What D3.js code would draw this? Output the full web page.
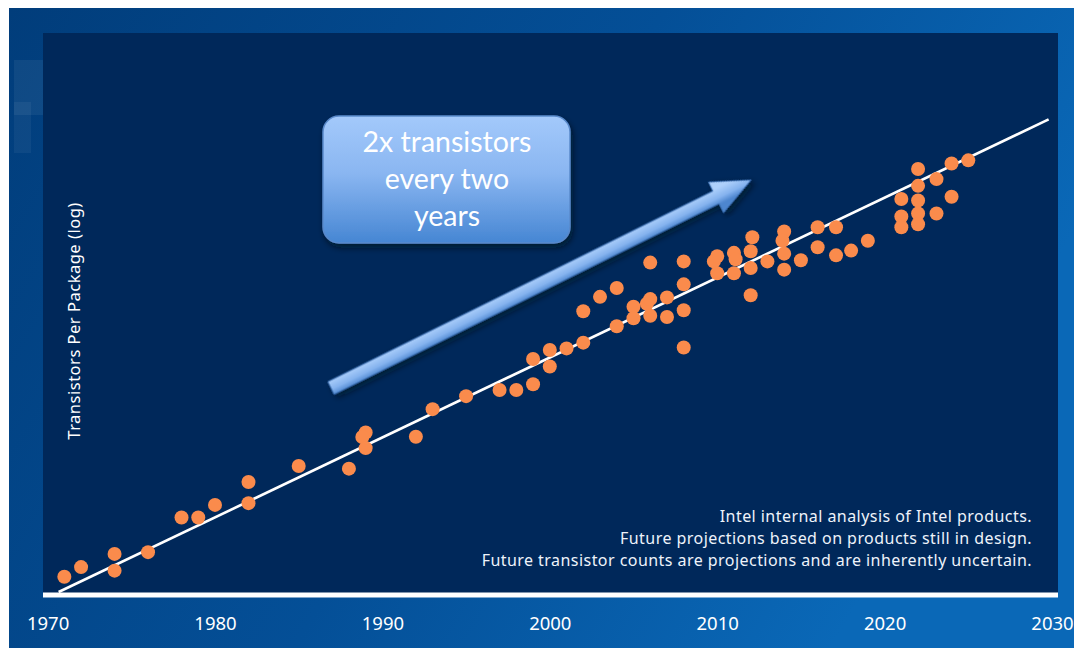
<!DOCTYPE html>
<html>
<head>
<meta charset="utf-8">
<script src="https://cdn.jsdelivr.net/npm/d3@7"></script>
<style>
  html, body { margin: 0; padding: 0; background: #ffffff; }
  svg { display: block; }
</style>
</head>
<body>
<svg id="chart" width="1074" height="648"></svg>
<script>
// Transistors per package for Intel products, by release year
const years = [
  1971, 1972, 1974, 1974, 1976, 1978, 1979, 1980, 1982, 1982,
  1985, 1988, 1989, 1988.8, 1989, 1992, 1993, 1995, 1997, 1998,
  1999, 1999, 2000, 2000, 2001, 2002, 2002, 2003, 2004, 2004,
  2005, 2005, 2005.8, 2006, 2006, 2006, 2007, 2007, 2008, 2008,
  2008, 2008, 2009.8, 2010, 2010, 2011, 2011.1, 2011, 2012.1, 2012,
  2012, 2012, 2013, 2014, 2013.9, 2014, 2014, 2015, 2016, 2016,
  2017.1, 2017.1, 2018, 2019, 2021, 2021, 2021, 2022, 2022, 2022,
  2022, 2022, 2023.1, 2023.1, 2024, 2024, 2025
];
const transistors = [
  2.3e3, 3.5e3, 6.2e3, 3.0e3, 6.7e3, 3.0e4, 3.0e4, 5.2e4, 1.4e5, 5.6e4,
  2.8e5, 2.5e5, 1.2e6, 9.9e5, 6.1e5, 1.0e6, 3.3e6, 5.8e6, 7.6e6, 7.6e6,
  9.7e6, 2.9e7, 2.1e7, 4.3e7, 4.6e7, 5.9e7, 2.3e8, 4.3e8, 6.3e8, 1.2e8,
  2.8e8, 1.7e8, 3.2e8, 3.9e8, 1.9e8, 1.9e9, 4.2e8, 1.8e8, 7.4e8, 2.0e9,
  2.4e8, 4.8e7, 2.0e9, 2.5e9, 1.2e9, 2.9e9, 2.2e9, 1.2e9, 5.7e9, 3.1e9,
  1.5e9, 4.6e8, 2.0e9, 7.3e9, 4.9e9, 2.8e9, 1.4e9, 2.1e9, 8.8e9, 3.7e9,
  8.8e9, 2.6e9, 3.2e9, 4.9e9, 3.0e10, 1.4e10, 8.8e9, 1.1e11, 5.3e10, 2.8e10,
  1.6e10, 1.0e10, 7.1e10, 1.6e10, 1.4e11, 3.3e10, 1.6e11
];

const tickYears = [1970, 1980, 1990, 2000, 2010, 2020, 2030];

// Reference line: doubling every two years
const trendYears = [1970.66, 2029.8];
const trendBase = 945;        // transistors at 1970 on the reference line
const doublingPeriod = 2;     // years

const calloutLines = ["2x transistors", "every two", "years"];
const yTitle = "Transistors Per Package (log)";
const notes = [
  "Intel internal analysis of Intel products.",
  "Future projections based on products still in design.",
  "Future transistor counts are projections and are inherently uncertain."
];

const svg = d3.select("#chart");
const W = 1074, H = 648;

const x = d3.scaleLinear().domain([1970, 2030]).range([47.6, 1052]);
const y = d3.scaleLog().domain([1e3, 1e13]).range([596, 65]);

// ---------- gradients and filters ----------
const defs = svg.append("defs");

const bg = defs.append("linearGradient").attr("id", "bgGrad")
  .attr("x1", 0).attr("y1", 0).attr("x2", 1).attr("y2", 0.35);
bg.append("stop").attr("offset", 0).attr("stop-color", "#013d7b");
bg.append("stop").attr("offset", 0.55).attr("stop-color", "#044f97");
bg.append("stop").attr("offset", 1).attr("stop-color", "#0a68b7");

const boxGrad = defs.append("linearGradient").attr("id", "boxGrad")
  .attr("x1", 0).attr("y1", 0).attr("x2", 0).attr("y2", 1);
boxGrad.append("stop").attr("offset", 0).attr("stop-color", "#a3c9fb");
boxGrad.append("stop").attr("offset", 0.45).attr("stop-color", "#8ab6f1");
boxGrad.append("stop").attr("offset", 1).attr("stop-color", "#4686d3");

const arrowGrad = defs.append("linearGradient").attr("id", "arrowGrad")
  .attr("gradientUnits", "userSpaceOnUse")
  .attr("x1", 0).attr("y1", -8).attr("x2", 0).attr("y2", 8);
arrowGrad.append("stop").attr("offset", 0).attr("stop-color", "#aed0fb");
arrowGrad.append("stop").attr("offset", 0.6).attr("stop-color", "#84b2ee");
arrowGrad.append("stop").attr("offset", 1).attr("stop-color", "#4d86cf");

const shadow = defs.append("filter").attr("id", "shadow")
  .attr("x", "-20%").attr("y", "-20%").attr("width", "140%").attr("height", "140%");
shadow.append("feDropShadow").attr("dx", 2).attr("dy", 4).attr("stdDeviation", 3)
  .attr("flood-color", "#000814").attr("flood-opacity", 0.6);

// ---------- backdrop ----------
svg.append("rect").attr("width", W).attr("height", H).attr("fill", "#ffffff");
svg.append("rect").attr("x", 9).attr("y", 8).attr("width", W - 9).attr("height", H - 8)
  .attr("fill", "url(#bgGrad)");
svg.append("rect").attr("x", 14).attr("y", 60).attr("width", 29).attr("height", 55)
  .attr("fill", "#ffffff").attr("opacity", 0.06);
svg.append("rect").attr("x", 14).attr("y", 102).attr("width", 17).attr("height", 51)
  .attr("fill", "#ffffff").attr("opacity", 0.05);

// plot panel
svg.append("rect").attr("x", 43).attr("y", 33).attr("width", 1015).attr("height", 561)
  .attr("fill", "#00285a");

// ---------- x axis ----------
const xAxis = svg.append("g")
  .attr("transform", "translate(0,595)")
  .call(d3.axisBottom(x).tickValues(tickYears).tickFormat(d3.format("d"))
    .tickSize(0).tickPadding(22));
xAxis.select(".domain").remove();
xAxis.selectAll("text")
  .attr("fill", "#ffffff")
  .style("font-family", "'Noto Sans', sans-serif")
  .style("font-size", "18.5px");

// white baseline
svg.append("line").attr("x1", 43).attr("x2", 1058).attr("y1", 595).attr("y2", 595)
  .attr("stroke", "#ffffff").attr("stroke-width", 5);

// y axis title
svg.append("text")
  .attr("transform", "translate(80,321) rotate(-90)")
  .attr("text-anchor", "middle")
  .attr("fill", "#ffffff")
  .style("font-family", "'Noto Sans', sans-serif")
  .style("font-size", "16.5px")
  .style("letter-spacing", "0.5px")
  .text(yTitle);

// ---------- reference line ----------
const trendLine = d3.line()
  .x(d => x(d))
  .y(d => y(trendBase * Math.pow(2, (d - 1970) / doublingPeriod)));
svg.append("path")
  .datum(trendYears)
  .attr("d", trendLine)
  .attr("fill", "none")
  .attr("stroke", "#ffffff")
  .attr("stroke-width", 2.6);

// ---------- products ----------
const points = years.map((yr, i) => ({ year: yr, count: transistors[i] }));
svg.append("g").selectAll("circle")
  .data(points)
  .join("circle")
  .attr("cx", d => x(d.year))
  .attr("cy", d => y(d.count))
  .attr("r", 7)
  .attr("fill", "#fa8b4c");

// ---------- footnotes ----------
svg.append("g").selectAll("text")
  .data(notes)
  .join("text")
  .attr("x", 1032)
  .attr("y", (d, i) => 522 + i * 22)
  .attr("text-anchor", "end")
  .attr("fill", "#eef3fa")
  .style("font-family", "'Noto Sans', sans-serif")
  .style("font-size", "16px")
  .style("letter-spacing", "0.45px")
  .text(d => d);

// ---------- arrow ----------
const tail = [331, 388], tip = [751, 180];
const len = Math.hypot(tip[0] - tail[0], tip[1] - tail[1]);
const ang = Math.atan2(tip[1] - tail[1], tip[0] - tail[0]) * 180 / Math.PI;
const shaftHalf = 7, headHalf = 17, headLen = 39;
const arrowPts = [
  [0, -shaftHalf], [len - headLen, -shaftHalf], [len - headLen, -headHalf],
  [len, 0],
  [len - headLen, headHalf], [len - headLen, shaftHalf], [0, shaftHalf]
];
svg.append("g")
  .attr("transform", `translate(${tail[0]},${tail[1]}) rotate(${ang})`)
  .append("path")
  .attr("d", d3.line()(arrowPts) + "Z")
  .attr("fill", "url(#arrowGrad)")
  .attr("stroke", "#3f73b6")
  .attr("stroke-width", 1)
  .attr("filter", "url(#shadow)");

// ---------- callout ----------
const box = svg.append("g");
box.append("rect")
  .attr("x", 323).attr("y", 116).attr("width", 247).attr("height", 127)
  .attr("rx", 16).attr("ry", 16)
  .attr("fill", "url(#boxGrad)")
  .attr("stroke", "#5a8acb").attr("stroke-width", 1.5)
  .attr("filter", "url(#shadow)");
box.selectAll("text")
  .data(calloutLines)
  .join("text")
  .attr("x", 447)
  .attr("y", (d, i) => 152 + i * 37)
  .attr("text-anchor", "middle")
  .attr("fill", "#ffffff")
  .style("font-family", "Lato, sans-serif")
  .style("font-size", "28.5px")
  .text(d => d);
</script>
</body>
</html>
